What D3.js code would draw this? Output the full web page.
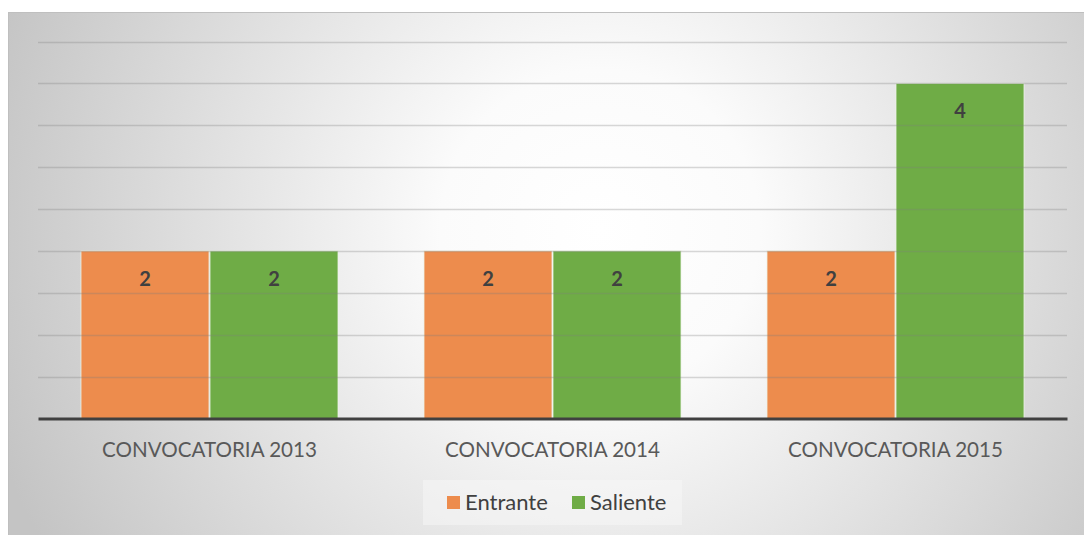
<!DOCTYPE html>
<html>
<head>
<meta charset="utf-8">
<script src="https://cdn.jsdelivr.net/npm/d3@7"></script>
<style>
  html, body { margin: 0; padding: 0; background: #fff; }
  svg { display: block; font-family: Lato, "Open Sans", sans-serif; }
</style>
</head>
<body>
<div id="chart"></div>
<script>
// chart values
var categories = ["CONVOCATORIA 2013", "CONVOCATORIA 2014", "CONVOCATORIA 2015"];
var seriesNames = ["Entrante", "Saliente"];
var entrante = [2, 2, 2];
var saliente = [2, 2, 4];
var yTicks = [0, 0.5, 1, 1.5, 2, 2.5, 3, 3.5, 4, 4.5];
var colors = ["#ed8c4d", "#6fac46"];

var width = 1084, height = 535;

var svg = d3.select("#chart").append("svg")
	.attr("width", width)
	.attr("height", height);

var defs = svg.append("defs");
var grad = defs.append("radialGradient")
	.attr("id", "bg")
	.attr("gradientUnits", "userSpaceOnUse")
	.attr("cx", 600).attr("cy", 230).attr("r", 640);
grad.append("stop").attr("offset", "0%").attr("stop-color", "#ffffff");
grad.append("stop").attr("offset", "25%").attr("stop-color", "#fbfbfb");
grad.append("stop").attr("offset", "100%").attr("stop-color", "#c4c4c4");

// chart area
svg.append("rect")
	.attr("x", 8).attr("y", 12)
	.attr("width", width - 8).attr("height", height - 12)
	.attr("fill", "url(#bg)");
svg.append("line")
	.attr("x1", 8).attr("x2", width)
	.attr("y1", 12.5).attr("y2", 12.5)
	.attr("stroke", "#bfbfbf");
svg.append("line")
	.attr("x1", 8.5).attr("x2", 8.5)
	.attr("y1", 12).attr("y2", height)
	.attr("stroke", "#bfbfbf");

var x = d3.scaleBand()
	.domain(categories)
	.range([38, 1067]);

var sub = d3.scaleBand()
	.domain(seriesNames)
	.range([0, 258]);

var y = d3.scaleLinear()
	.domain([0, 4.5])
	.range([418.5, 41.5]);

var data = [];
categories.forEach(function(c, i) {
	data.push({cat: c, series: "Entrante", value: entrante[i], color: colors[0]});
	data.push({cat: c, series: "Saliente", value: saliente[i], color: colors[1]});
});

var off = (x.bandwidth() - 258) / 2;

// bars
svg.append("g").selectAll("rect")
	.data(data)
	.enter()
	.append("rect")
	.attr("x", d => x(d.cat) + off + sub(d.series) + 0.5)
	.attr("y", d => y(d.value))
	.attr("width", sub.bandwidth() - 1)
	.attr("height", d => y(0) - y(d.value))
	.attr("fill", d => d.color)
	.attr("stroke", "#ecf3e6")
	.attr("stroke-opacity", 0.8)
	.attr("stroke-width", 1);

// gridlines (drawn over bars, faint)
svg.append("g").selectAll("line")
	.data(yTicks.slice(1))
	.enter()
	.append("line")
	.attr("x1", 38).attr("x2", 1067)
	.attr("y1", d => Math.round(y(d)) + 0.5)
	.attr("y2", d => Math.round(y(d)) + 0.5)
	.attr("stroke", "#7f7f7f")
	.attr("stroke-opacity", 0.3)
	.attr("stroke-width", 1.5);

// baseline axis
var xAxis = g => g
	.attr("transform", `translate(0,${y(0)})`)
	.call(d3.axisBottom(x).tickSize(0).tickPadding(24))
	.call(g => g.select(".domain").attr("stroke", "#404040").attr("stroke-width", 3))
	.call(g => g.selectAll("text")
		.attr("fill", "#595959")
		.attr("font-size", "20.6px")
		.attr("font-family", "Lato, sans-serif"));

svg.append("g").call(xAxis);

// data labels
svg.append("g").selectAll("text")
	.data(data)
	.enter()
	.append("text")
	.attr("x", d => x(d.cat) + off + sub(d.series) + sub.bandwidth() / 2)
	.attr("y", d => y(d.value) + 35)
	.attr("text-anchor", "middle")
	.attr("font-size", "20px")
	.attr("font-weight", "bold")
	.attr("fill", "#404040")
	.text(d => d.value);

// legend
var legend = svg.append("g");
legend.append("rect")
	.attr("x", 423).attr("y", 480)
	.attr("width", 259).attr("height", 45)
	.attr("fill", "#f7f7f7")
	.attr("fill-opacity", 0.5);

var lx = [447, 572];
seriesNames.forEach(function(s, i) {
	legend.append("rect")
		.attr("x", lx[i]).attr("y", 496)
		.attr("width", 13).attr("height", 13)
		.attr("fill", colors[i]);
	legend.append("text")
		.attr("x", lx[i] + 18).attr("y", 510)
		.attr("font-size", "22px")
		.attr("fill", "#404040")
		.text(s);
});
</script>
</body>
</html>
